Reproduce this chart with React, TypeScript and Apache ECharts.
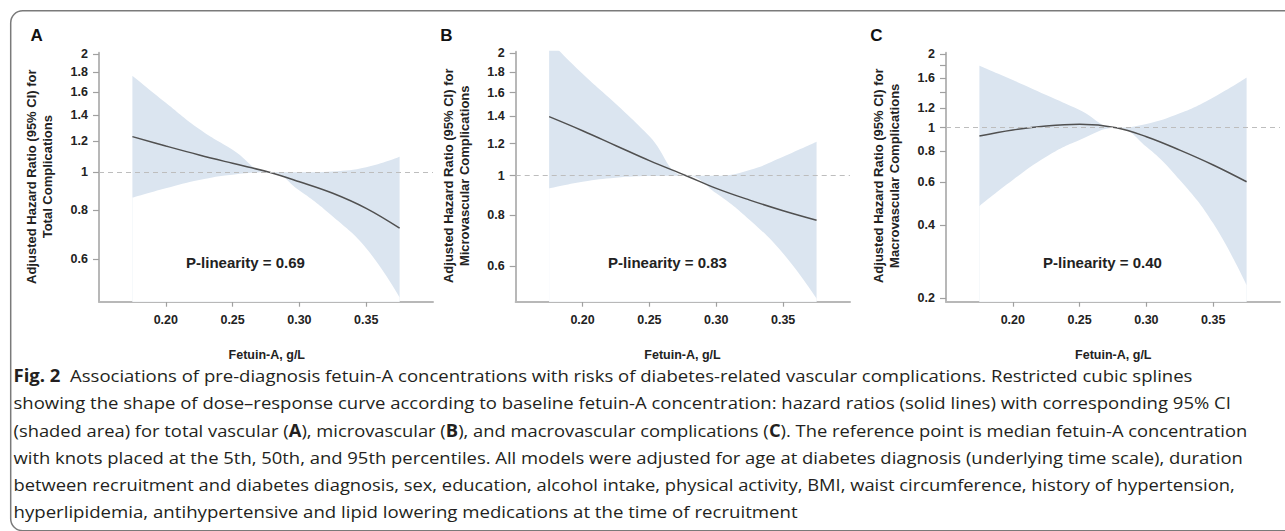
import React, { useEffect, useRef } from "react";
import * as echarts from "echarts";

// ---------------- DATA ----------------
const fetuinA = [0.175, 0.2, 0.225, 0.25, 0.2775, 0.3, 0.325, 0.35, 0.375];

const hrTotal = [1.233, 1.167, 1.107, 1.054, 1.0, 0.946, 0.884, 0.809, 0.72];
const upperTotal = [1.764, 1.505, 1.29, 1.142, 1.0, 1.0, 1.005, 1.03, 1.095];
const lowerTotal = [0.861, 0.91, 0.956, 0.986, 1.0, 0.898, 0.771, 0.64, 0.48];

const hrMicro = [1.397, 1.29, 1.185, 1.089, 1.0, 0.931, 0.871, 0.82, 0.777];
const upperMicro = [2.15, 1.78, 1.5, 1.25, 1.0, 1.0, 1.033, 1.114, 1.212];
const lowerMicro = [0.931, 0.967, 0.989, 0.998, 1.0, 0.905, 0.778, 0.644, 0.499];

const hrMacro = [0.925, 0.979, 1.016, 1.032, 1.0, 0.919, 0.81, 0.704, 0.601];
const upperMacro = [1.794, 1.568, 1.361, 1.182, 1.0, 1.036, 1.145, 1.331, 1.607];
const lowerMacro = [0.478, 0.611, 0.761, 0.891, 1.0, 0.836, 0.611, 0.406, 0.227];

const xTicks = [0.2, 0.25, 0.3, 0.35];
const xRange = [0.15, 0.4];

const yLabelsAB = [0.6, 0.8, 1, 1.2, 1.4, 1.6, 1.8, 2];
const yTicksAB = [0.6, 0.8, 1, 1.2, 1.4, 1.6, 1.8, 2];
const yLabelsC = [0.2, 0.4, 0.6, 0.8, 1, 1.2, 1.6, 2];
const yTicksC = [0.2, 0.4, 0.6, 0.8, 1, 1.2, 1.4, 1.6, 1.8, 2];

const yRangeTotal = [0.4675, 2.019];
const yRangeMicro = [0.49, 2.018];
const yRangeMacro = [0.194, 2.028];

const panelLetters = ["A", "B", "C"];
const yTitleLine1 = "Adjusted Hazard Ratio (95% CI) for";
const yTitleLine2 = ["Total Complications", "Microvascular Complications", "Macrovascular Complications"];
const pLinearity = ["P-linearity = 0.69", "P-linearity = 0.83", "P-linearity = 0.40"];
const xTitle = "Fetuin-A, g/L";

const captionLines: [string, boolean][][] = [
  [["Fig. 2", true], ["  Associations of pre-diagnosis fetuin-A concentrations with risks of diabetes-related vascular complications. Restricted cubic splines", false]],
  [["showing the shape of dose\u2013response curve according to baseline fetuin-A concentration: hazard ratios (solid lines) with corresponding 95% CI", false]],
  [["(shaded area) for total vascular (", false], ["A", true], ["), microvascular (", false], ["B", true], ["), and macrovascular complications (", false], ["C", true], ["). The reference point is median fetuin-A concentration", false]],
  [["with knots placed at the 5th, 50th, and 95th percentiles. All models were adjusted for age at diabetes diagnosis (underlying time scale), duration", false]],
  [["between recruitment and diabetes diagnosis, sex, education, alcohol intake, physical activity, BMI, waist circumference, history of hypertension,", false]],
  [["hyperlipidemia, antihypertensive and lipid lowering medications at the time of recruitment", false]],
];

// ---------------- LAYOUT / STYLE ----------------
const W = 1285;
const H = 531;
const AX_FONT = "'Liberation Sans', Arial, Helvetica, sans-serif";
const CAP_FONT = "'Open Sans', 'Noto Sans', sans-serif";
const CAP_SIZE = 17;
const BAND = "#dbe5f0";
const LINE = "#505050";
const AXIS_COLOR = "#b8b8b8";

const grids = [
  { left: 99, top: 52.7, width: 334, height: 249 },
  { left: 515.7, top: 51.7, width: 334.3, height: 250 },
  { left: 946, top: 52.7, width: 334, height: 249 },
];
const letterPos = [[36.7, 35.5], [446.3, 35.5], [876.3, 35.5]];
const yTitlePos = [[31.7, 47, 176.7], [448, 464, 175.8], [878, 894, 175.8]];
const pPos = [[245.5, 262.5], [667.5, 262.5], [1102.5, 262.5]];
const xTitlePos = [[266.8, 355], [682.5, 355], [1113.3, 355]];
const capLeft = 13.5;
const capRight = [1193, 1231.7, 1248, 1244, 1235, 797.7];
const capY = [375, 402.5, 430, 457, 484, 511.7];

function fmtY(v: number) {
  const r = Math.round(Math.exp(v) * 10) / 10;
  return String(r);
}

function measure(ctx: CanvasRenderingContext2D, segs: [string, boolean][]) {
  let w = 0;
  for (const [t, b] of segs) {
    ctx.font = `${b ? "bold " : ""}${CAP_SIZE}px ${CAP_FONT}`;
    w += ctx.measureText(t).width;
  }
  return w;
}

function buildOption() {
  const panels = [
    { hr: hrTotal, up: upperTotal, lo: lowerTotal, yr: yRangeTotal, labels: yLabelsAB, ticks: yTicksAB },
    { hr: hrMicro, up: upperMicro, lo: lowerMicro, yr: yRangeMicro, labels: yLabelsAB, ticks: yTicksAB },
    { hr: hrMacro, up: upperMacro, lo: lowerMacro, yr: yRangeMacro, labels: yLabelsC, ticks: yTicksC },
  ];

  const axisLabelStyle = { color: "#222", fontWeight: "bold", fontFamily: AX_FONT, fontSize: 12.5 };
  const axisLineStyle = { lineStyle: { color: AXIS_COLOR, width: 2 } };
  const tickStyle = { lineStyle: { color: "#a0a0a0", width: 1.2 } };

  const xAxis = panels.map((_, i) => ({
    type: "value",
    gridIndex: i,
    min: xRange[0],
    max: xRange[1],
    splitLine: { show: false },
    axisLine: { show: true, onZero: false, ...axisLineStyle },
    axisTick: { show: true, length: 5, inside: false, customValues: xTicks, ...tickStyle },
    axisLabel: { ...axisLabelStyle, margin: 12, customValues: xTicks, formatter: (v: number) => v.toFixed(2) },
  }));

  const yAxis = panels.map((p, i) => ({
    type: "value",
    gridIndex: i,
    min: Math.log(p.yr[0]),
    max: Math.log(p.yr[1]),
    splitLine: { show: false },
    axisLine: { show: true, onZero: false, ...axisLineStyle },
    axisTick: { show: true, length: 6, inside: false, customValues: p.ticks.map(Math.log), ...tickStyle },
    axisLabel: { ...axisLabelStyle, margin: 11, customValues: p.labels.map(Math.log), formatter: fmtY },
  }));

  const series: any[] = [];
  panels.forEach((p, i) => {
    const toData = (arr: number[]) => fetuinA.map((x, k) => [x, Math.log(arr[k])]);
    series.push({
      type: "line",
      xAxisIndex: i,
      yAxisIndex: i,
      data: toData(p.up),
      smooth: 0.45,
      symbol: "none",
      silent: true,
      z: 2,
      lineStyle: { opacity: 0 },
      areaStyle: { color: BAND, opacity: 1, origin: "start" },
    });
    series.push({
      type: "line",
      xAxisIndex: i,
      yAxisIndex: i,
      data: toData(p.lo),
      smooth: 0.45,
      symbol: "none",
      silent: true,
      z: 3,
      lineStyle: { opacity: 0 },
      areaStyle: { color: "#ffffff", opacity: 1, origin: "start" },
    });
    series.push({
      type: "line",
      xAxisIndex: i,
      yAxisIndex: i,
      data: toData(p.hr),
      smooth: 0.4,
      symbol: "none",
      silent: true,
      z: 4,
      lineStyle: { color: LINE, width: 1.5 },
      markLine: {
        silent: true,
        symbol: ["none", "none"],
        label: { show: false },
        lineStyle: { color: "#bdbdbd", type: [5, 4], width: 1.2 },
        data: [{ yAxis: 0 }],
        z: 5,
      },
    });
  });

  const ctx = document.createElement("canvas").getContext("2d") as CanvasRenderingContext2D;
  const graphic: any[] = [];
  graphic.push({
    type: "rect",
    shape: { x: 10.7, y: 10.7, width: 1320, height: 520, r: 12 },
    style: { fill: "none", stroke: "#7a7a7a", lineWidth: 1.5 },
    silent: true,
    z: 10,
  });
  panels.forEach((_, i) => {
    graphic.push({
      type: "text",
      x: letterPos[i][0],
      y: letterPos[i][1],
      style: { text: panelLetters[i], fontFamily: AX_FONT, fontWeight: "bold", fontSize: 17, fill: "#111", textAlign: "center", textVerticalAlign: "middle" },
      z: 10,
    });
    graphic.push({
      type: "text",
      x: yTitlePos[i][0],
      y: yTitlePos[i][2],
      rotation: Math.PI / 2,
      style: { text: yTitleLine1, fontFamily: AX_FONT, fontWeight: "bold", fontSize: 13, fill: "#222", textAlign: "center", textVerticalAlign: "middle" },
      z: 10,
    });
    graphic.push({
      type: "text",
      x: yTitlePos[i][1],
      y: yTitlePos[i][2],
      rotation: Math.PI / 2,
      style: { text: yTitleLine2[i], fontFamily: AX_FONT, fontWeight: "bold", fontSize: 13, fill: "#222", textAlign: "center", textVerticalAlign: "middle" },
      z: 10,
    });
    graphic.push({
      type: "text",
      x: pPos[i][0],
      y: pPos[i][1],
      style: { text: pLinearity[i], fontFamily: AX_FONT, fontWeight: "bold", fontSize: 15, fill: "#222", textAlign: "center", textVerticalAlign: "middle" },
      z: 10,
    });
    graphic.push({
      type: "text",
      x: xTitlePos[i][0],
      y: xTitlePos[i][1],
      style: { text: xTitle, fontFamily: AX_FONT, fontWeight: "bold", fontSize: 12.5, fill: "#222", textAlign: "center", textVerticalAlign: "middle" },
      z: 10,
    });
  });

  captionLines.forEach((segs, li) => {
    const natural = measure(ctx, segs);
    const target = capRight[li] - capLeft;
    const sx = natural > 0 ? target / natural : 1;
    const text = segs.map(([t, b]) => (b ? `{b|${t}}` : `{r|${t}}`)).join("");
    graphic.push({
      type: "text",
      x: capLeft,
      y: capY[li],
      scaleX: sx,
      style: {
        text,
        fill: "#231f20",
        fontFamily: CAP_FONT,
        fontSize: CAP_SIZE,
        textAlign: "left",
        textVerticalAlign: "middle",
        rich: {
          b: { fontFamily: CAP_FONT, fontSize: CAP_SIZE, fontWeight: "bold", fill: "#231f20" },
          r: { fontFamily: CAP_FONT, fontSize: CAP_SIZE, fontWeight: "normal", fill: "#231f20" },
        },
      },
      z: 10,
    });
  });

  return {
    animation: false,
    grid: grids.map((g) => ({ ...g, containLabel: false })),
    xAxis,
    yAxis,
    series,
    graphic,
  };
}

export default function App() {
  const ref = useRef<HTMLDivElement>(null);
  useEffect(() => {
    if (!ref.current) return;
    const chart = echarts.init(ref.current, null, { renderer: "svg" });
    chart.setOption(buildOption() as any);
    return () => chart.dispose();
  }, []);
  return (
    <div
      ref={ref}
      style={{ position: "absolute", left: 0, top: 0, width: W, height: H, background: "#fff" }}
    />
  );
}
